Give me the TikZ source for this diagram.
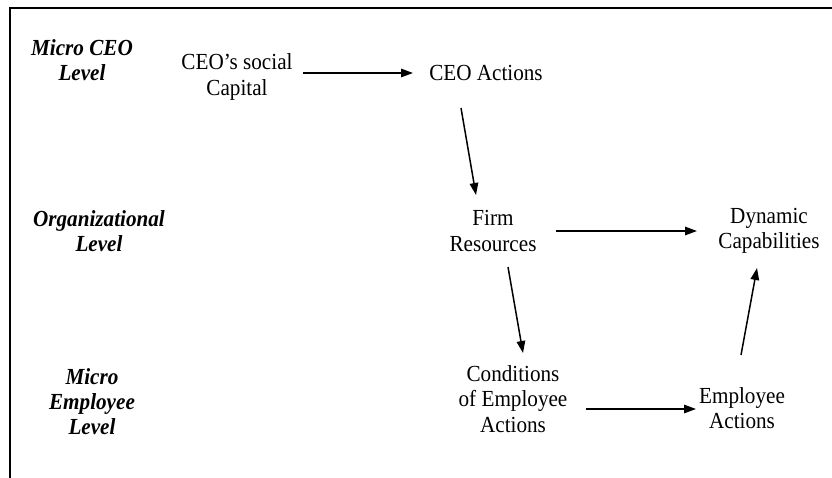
\documentclass[tikz,border=0pt]{standalone}
\usepackage{fontspec}
\setmainfont[FakeStretch=0.92]{Liberation Serif}
\usetikzlibrary{arrows.meta}
\tikzset{
  txt/.style={align=center, inner sep=0pt, font=\fontsize{23}{25.5}\selectfont},
  lvl/.style={txt, font=\fontsize{23}{25}\selectfont\bfseries\itshape},
  arr/.style={line width=1.5pt, -{Triangle[length=12pt,width=8.5pt]}},
  frame/.style={line width=2pt}
}
\begin{document}
\begin{tikzpicture}[x=1pt,y=1pt]
\useasboundingbox (0,0) rectangle (832,477);
% frame (top and left edges)
\coordinate (ftr) at (833,469);
\coordinate (ftl) at (10,469);
\coordinate (fbl) at (10,-1);
\draw[frame] (ftr) -- (ftl) -- (fbl);
% level labels
\node[lvl] (lvlceo) at (82,417) {Micro CEO\\Level};
\node[lvl] (lvlorg) at (99,246) {Organizational\\Level};
\node[lvl] (lvlemp) at (92,75) {Micro\\Employee\\Level};
% concepts
\node[txt] (social) at (237,400) {CEO’s social\\Capital};
\node[txt] (ceoact) at (486,404) {CEO Actions};
\node[txt] (firm) at (493,246) {Firm\\Resources};
\node[txt] (dyn) at (769,246) {Dynamic\\Capabilities};
\node[txt] (cond) at (513,78) {Conditions\\of Employee\\Actions};
\node[txt] (empact) at (742,69) {Employee\\Actions};
% arrows
\draw[arr] ([shift={(66,4)}]social.center) -- ([shift={(-73,0)}]ceoact.center);
\draw[arr] ([shift={(-25,-35)}]ceoact.center) -- ([shift={(-17,36)}]firm.center);
\draw[arr] ([shift={(63,0)}]firm.center) -- ([shift={(-72,0)}]dyn.center);
\draw[arr] ([shift={(15,-36)}]firm.center) -- ([shift={(10,46)}]cond.center);
\draw[arr] ([shift={(73,-10)}]cond.center) -- ([shift={(-46,-1)}]empact.center);
\draw[arr] ([shift={(-1,53)}]empact.center) -- ([shift={(-12,-37)}]dyn.center);
\end{tikzpicture}
\end{document}
